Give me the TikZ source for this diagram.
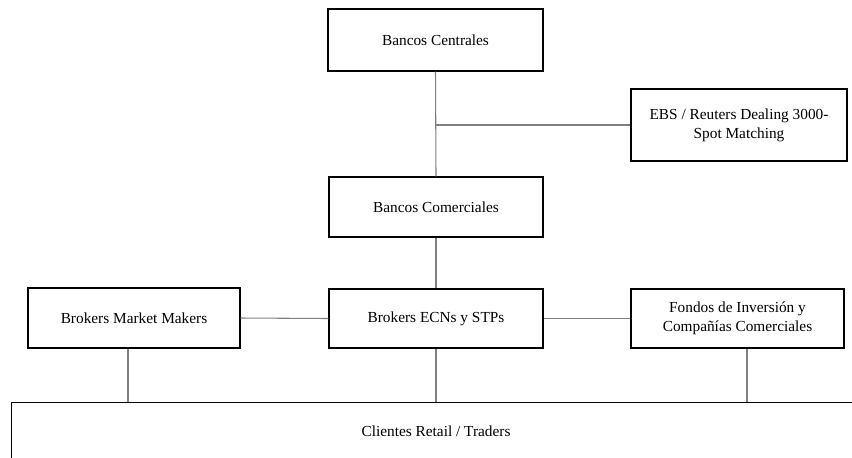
\documentclass[tikz,border=0pt]{standalone}
\usepackage{fontspec}
\setmainfont{Liberation Serif}
\usetikzlibrary{calc}
\begin{document}
\begin{tikzpicture}[x=0.75pt, y=-0.75pt,
    box/.style={draw=black, line width=1.1pt, align=center, inner sep=2pt,
        font=\fontsize{11.5}{14.5}\selectfont},
    link/.style={draw=gray, line width=0.8pt}]
    \useasboundingbox (0,0) rectangle (852,457);
    \clip (0,0) rectangle (852,457);
    \node[box, minimum width=161pt, minimum height=46.5pt] (bc) at (435.5,40) {Bancos Centrales};
    \node[box, minimum width=162pt, minimum height=54pt] (ebs) at (739,125) {EBS / Reuters Dealing 3000-\\Spot Matching};
    \node[box, minimum width=160.5pt, minimum height=45pt] (bcom) at (436,207) {Bancos Comerciales};
    \node[box, minimum width=160.5pt, minimum height=44.5pt] (ecn) at (436,318.5) {Brokers ECNs y STPs};
    \node[box, minimum width=159pt, minimum height=45pt] (mm) at (134,318) {Brokers Market Makers};
    \node[box, minimum width=160pt, minimum height=44.5pt] (fondos) at (737.5,318.5) {Fondos de Inversión y\\Compañías Comerciales};
    \node[box, anchor=north west, minimum width=700pt, minimum height=80pt] (cl) at (11,402) {};
    \node[font=\fontsize{11.5}{14.5}\selectfont] (clt) at (436,431) {Clientes Retail / Traders};
    \coordinate (mmdown) at ($(mm.south)+(-6,0)$);
    \coordinate (fondosdown) at ($(fondos.south)+(9.5,0)$);
    \draw[link] (bc.south) -- (bcom.north);
    \draw[link] (ebs.west -| bc.south) -- (ebs.west);
    \draw[link] (bcom.south) -- (ecn.north);
    \draw[link] (mm.east) -- (ecn.west);
    \draw[link] (ecn.east) -- (fondos.west);
    \draw[link] (mmdown) -- (mmdown |- cl.north);
    \draw[link] (ecn.south) -- (ecn.south |- cl.north);
    \draw[link] (fondosdown) -- (fondosdown |- cl.north);
\end{tikzpicture}
\end{document}
